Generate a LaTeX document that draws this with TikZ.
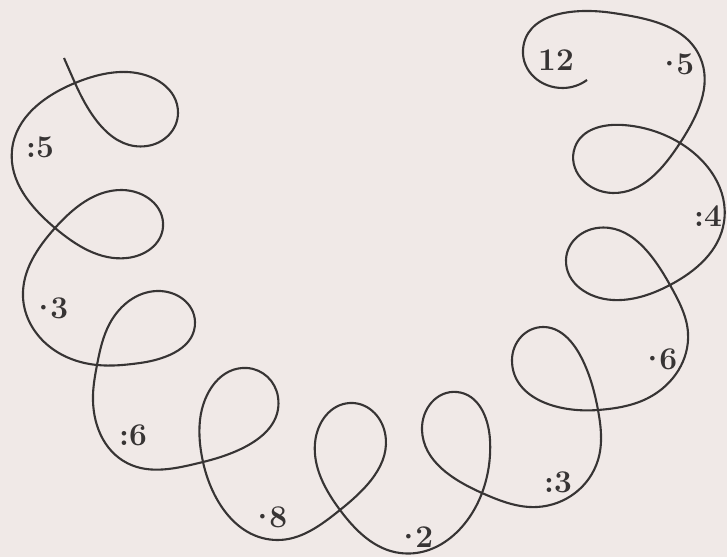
\documentclass[tikz,border=0pt]{standalone}
\usepackage{tikz}
\usetikzlibrary{hobby}
\definecolor{paper}{RGB}{240,233,231}
\definecolor{ink}{RGB}{55,52,52}
\newcommand{\dotnum}[1]{\textperiodcentered\kern-0.22em#1}
\tikzset{
  loopline/.style={draw=ink, line width=1.2pt, use Hobby shortcut},
  num/.style={text=ink, font=\fontsize{18}{20}\selectfont\bfseries,
              inner sep=0pt},
}

\begin{document}
\begin{tikzpicture}[x=0.02cm, y=-0.02cm]

\fill[paper] (0,0) rectangle (727,557);
\useasboundingbox (0,0) rectangle (727,557);

\draw[loopline] (64,58) .. (75,83) .. (147,146) .. (178,113) .. (127,72)
  .. (75,83) .. (12,150) .. (55,228) .. (127,258) .. (163,227) .. (122,190)
  .. (55,228) .. (23,297) .. (50,347) .. (97,365) .. (140,363) .. (195,322)
  .. (157,291) .. (110,323) .. (97,365) .. (93,395) .. (127,463) .. (203,462)
  .. (278,397) .. (247,368) .. (200,420) .. (203,462) .. (277,540)
  .. (340,510) .. (385,433) .. (350,403) .. (315,443) .. (340,510)
  .. (400,553) .. (482,493) .. (490,440) .. (457,392) .. (422,430)
  .. (482,493) .. (537,507) .. (598,460) .. (598,410) .. (580,355)
  .. (543,327) .. (512,360) .. (598,410) .. (650,397) .. (688,333)
  .. (670,285) .. (597,228) .. (566,260) .. (613,300) .. (670,285)
  .. (724,222) .. (680,143) .. (623,125) .. (575,147) .. (613,193)
  .. (680,143) .. (700,57) .. (613,13) .. (523,50) .. (563,88) .. (587,80);

\foreach \i/\xy/\txt in {1/{(556,60)}/12, 2/{(675,64)}/\dotnum{5},
                         3/{(708,216)}/:4, 4/{(658,359)}/\dotnum{6},
                         5/{(558,482)}/:3, 6/{(414,537)}/\dotnum{2},
                         7/{(268,517)}/\dotnum{8}, 8/{(133,435)}/:6,
                         9/{(49,308)}/\dotnum{3}, 10/{(40,147)}/:5} {
    \node[num] (lab\i) at \xy {\txt};
}

\end{tikzpicture}
\end{document}
